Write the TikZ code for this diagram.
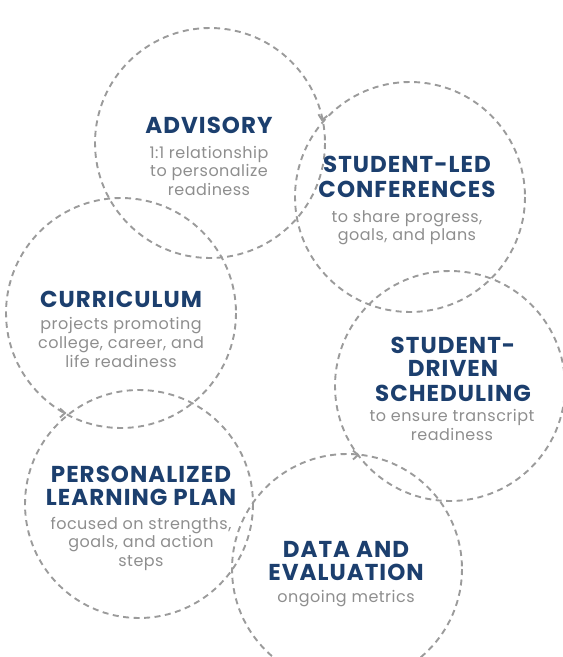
\documentclass[tikz,border=0pt]{standalone}
\usepackage{fontspec}
\setmainfont{Poppins}
\newfontfamily\headfont[LetterSpace=4.5]{Poppins}
\newfontfamily\bodyfont[LetterSpace=3]{Poppins}
\begin{document}
\begin{tikzpicture}[x=1pt,y=-1pt,
  ring/.style={draw=ringgray, line width=1.9pt, dash pattern=on 6pt off 4.5pt},
  chev/.style={draw=ringgray, line width=1.9pt},
  head/.style={text=headblue, font=\headfont\fontsize{23}{26}\selectfont\bfseries, inner sep=0pt, anchor=base},
  body/.style={text=bodygray, font=\bodyfont\fontsize{16}{18}\selectfont, inner sep=0pt, anchor=base}]
\definecolor{ringgray}{HTML}{9B9B9B}
\definecolor{headblue}{HTML}{1C3F6E}
\definecolor{bodygray}{HTML}{8E8E8E}
\useasboundingbox (0,0) rectangle (563,657);
\clip (0,0) rectangle (563,657);
% circles
\draw[ring] (210,143) circle[radius=115];
\draw[ring] (410,197) circle[radius=115];
\draw[ring] (121,313) circle[radius=115];
\draw[ring] (450,386) circle[radius=115];
\draw[ring] (139,504) circle[radius=114];
\draw[ring] (347,569) circle[radius=115];
% chevrons
\draw[chev, shift={(322,120)}, rotate=-100] (-5,4.5) -- (0,0) -- (-5,-4.5);
\draw[chev, shift={(65,413)}, rotate=0] (-5,4.5) -- (0,0) -- (-5,-4.5);
\draw[chev, shift={(358,455)}, rotate=0] (-5,4.5) -- (0,0) -- (-5,-4.5);
% Advisory
\node[head] (adv) at (209,133) {ADVISORY};
\node[body] (adv1) at (209,158) {1:1 relationship};
\node[body] (adv2) at (209,176.5) {to personalize};
\node[body] (adv3) at (209,195) {readiness};
% Student-led conferences
\node[head] (slc1) at (407,172) {STUDENT-LED};
\node[head] (slc2) at (407,197) {CONFERENCES};
\node[body] (slc3) at (407,222) {to share progress,};
\node[body] (slc4) at (407,240) {goals, and plans};
% Curriculum
\node[head] (cur) at (121,307) {CURRICULUM};
\node[body] (cur1) at (121,329) {projects promoting};
\node[body] (cur2) at (121,348) {college, career, and};
\node[body] (cur3) at (121,367) {life readiness};
% Student-driven scheduling
\node[head] (sds1) at (453,353) {STUDENT-};
\node[head] (sds2) at (453,376) {DRIVEN};
\node[head] (sds3) at (453,401) {SCHEDULING};
\node[body] (sds4) at (452,421) {to ensure transcript};
\node[body] (sds5) at (452,440) {readiness};
% Personalized learning plan
\node[head] (plp1) at (141,482) {PERSONALIZED};
\node[head] (plp2) at (141,505) {LEARNING PLAN};
\node[body] (plp3) at (141,529) {focused on strengths,};
\node[body] (plp4) at (141,547.5) {goals, and action};
\node[body] (plp5) at (141,566) {steps};
% Data and evaluation
\node[head] (dat1) at (346,557) {DATA AND};
\node[head] (dat2) at (346,580) {EVALUATION};
\node[body] (dat3) at (346,602) {ongoing metrics};
\end{tikzpicture}
\end{document}
